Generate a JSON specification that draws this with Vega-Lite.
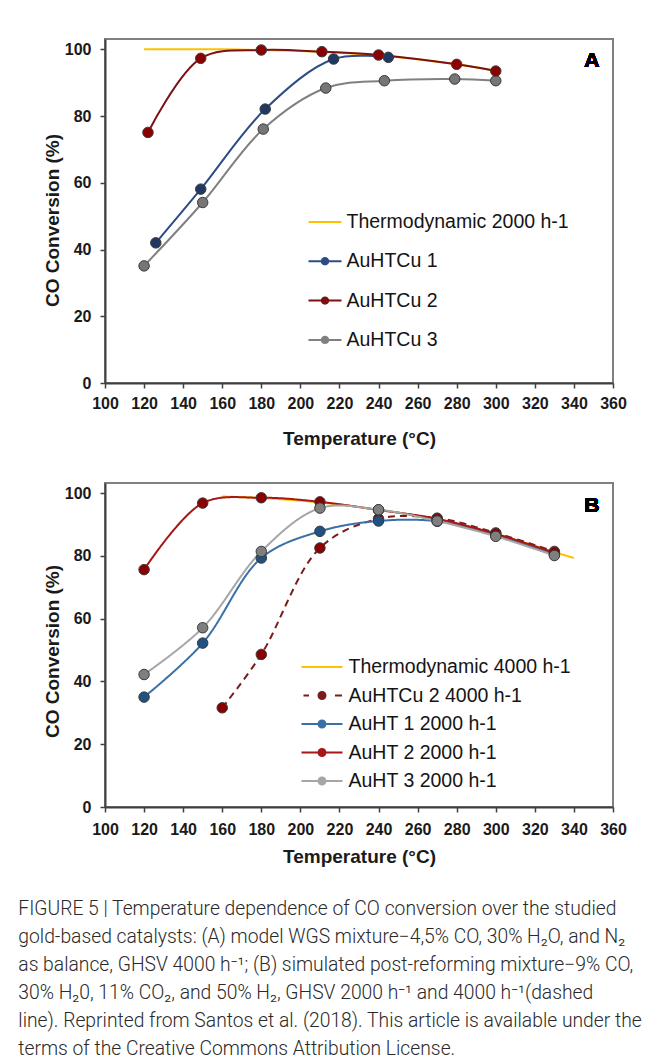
{
  "$schema": "https://vega.github.io/schema/vega-lite/v6.json",
  "background": "white",
  "padding": {"left": 18, "top": 38, "right": 10, "bottom": 5},
  "spacing": 33,
  "config": {
    "font": "Liberation Sans",
    "view": {"stroke": "#808080", "strokeWidth": 2},
    "axis": {
      "grid": false,
      "domainColor": "#404040",
      "domainWidth": 2,
      "tickColor": "#404040",
      "tickWidth": 1.5,
      "tickSize": 5,
      "labelFont": "Liberation Sans",
      "labelFontWeight": "bold",
      "labelFontSize": 16,
      "labelColor": "#1a1a1a",
      "titleFont": "Liberation Sans",
      "titleFontWeight": "bold",
      "titleFontSize": 19,
      "titleColor": "#1a1a1a",
      "labelFlush": false,
      "labelOverlap": false,
      "labelSeparation": -20,
      "labelBound": false
    },
    "axisY": {"labelPadding": 9, "titlePadding": 2}
  },
  "title": {
    "text": [
      "FIGURE 5 | Temperature dependence of CO conversion over the studied",
      "gold-based catalysts: (A) model WGS mixture−4,5% CO, 30% H₂O, and N₂",
      "as balance, GHSV 4000 h⁻¹; (B) simulated post-reforming mixture−9% CO,",
      "30% H₂0, 11% CO₂, and 50% H₂, GHSV 2000 h⁻¹ and 4000 h⁻¹(dashed",
      "line). Reprinted from Santos et al. (2018). This article is available under the",
      "terms of the Creative Commons Attribution License."
    ],
    "orient": "bottom",
    "anchor": "start",
    "frame": "bounds",
    "baseline": "top",
    "offset": 33,
    "dx": -24,
    "font": "Roboto",
    "fontWeight": 300,
    "fontSize": 19.3,
    "lineHeight": 27.9,
    "color": "#2a2a2a"
  },
  "resolve": {
    "scale": {"color": "independent", "shape": "independent", "strokeDash": "independent", "fill": "independent"},
    "legend": {"color": "independent", "shape": "independent", "fill": "independent", "strokeDash": "independent"}
  },
  "vconcat": [
    {
      "width": 508,
      "height": 344,
      "data": {
        "values": [
          {"series": "Thermodynamic 2000 h-1", "t": 120, "conv": 100},
          {"series": "Thermodynamic 2000 h-1", "t": 160, "conv": 100},
          {"series": "Thermodynamic 2000 h-1", "t": 180, "conv": 99.8},
          {"series": "Thermodynamic 2000 h-1", "t": 210, "conv": 99.3},
          {"series": "Thermodynamic 2000 h-1", "t": 240, "conv": 98.2},
          {"series": "Thermodynamic 2000 h-1", "t": 280, "conv": 95.5},
          {"series": "Thermodynamic 2000 h-1", "t": 300, "conv": 93.5},
          {"series": "AuHTCu 3", "t": 120, "conv": 35.1},
          {"series": "AuHTCu 3", "t": 150, "conv": 54.1},
          {"series": "AuHTCu 3", "t": 181, "conv": 76.1},
          {"series": "AuHTCu 3", "t": 213, "conv": 88.4},
          {"series": "AuHTCu 3", "t": 243, "conv": 90.6},
          {"series": "AuHTCu 3", "t": 279, "conv": 91.1},
          {"series": "AuHTCu 3", "t": 300, "conv": 90.6},
          {"series": "AuHTCu 1", "t": 126, "conv": 42.0},
          {"series": "AuHTCu 1", "t": 149, "conv": 58.1},
          {"series": "AuHTCu 1", "t": 182, "conv": 82.1},
          {"series": "AuHTCu 1", "t": 217, "conv": 97.1},
          {"series": "AuHTCu 1", "t": 245, "conv": 97.6},
          {"series": "AuHTCu 2", "t": 122, "conv": 75.1},
          {"series": "AuHTCu 2", "t": 149, "conv": 97.3},
          {"series": "AuHTCu 2", "t": 180, "conv": 99.8},
          {"series": "AuHTCu 2", "t": 211, "conv": 99.3},
          {"series": "AuHTCu 2", "t": 240, "conv": 98.3},
          {"series": "AuHTCu 2", "t": 280, "conv": 95.5},
          {"series": "AuHTCu 2", "t": 300, "conv": 93.5}
        ]
      },
      "encoding": {
        "x": {"field": "t", "type": "quantitative", "scale": {"domain": [100, 360], "nice": false, "zero": false}, "axis": {"values": [100, 120, 140, 160, 180, 200, 220, 240, 260, 280, 300, 320, 340, 360], "title": "Temperature (°C)", "titlePadding": 18, "labelPadding": 7, "labelOverlap": false, "labelFlush": false, "labelSeparation": -20, "labelBound": false}},
        "y": {"field": "conv", "type": "quantitative", "scale": {"domain": [0, 103.1], "nice": false}, "axis": {"values": [0, 20, 40, 60, 80, 100], "title": "CO Conversion (%)", "labelOverlap": false, "titleY": 181}}
      },
      "layer": [
        {
          "mark": {"type": "line", "interpolate": "catmull-rom", "strokeWidth": 2},
          "encoding": {
            "color": {"field": "series", "type": "nominal", "scale": {"domain": ["Thermodynamic 2000 h-1", "AuHTCu 1", "AuHTCu 2", "AuHTCu 3"], "range": ["#FFC000", "#2E4C84", "#7B1113", "#808080"]},
              "legend": {"orient": "none", "legendX": 210, "legendY": 173, "title": null, "symbolSize": 400, "labelFontSize": 19.5, "labelFont": "Liberation Sans", "labelColor": "#141414", "labelOffset": 11.5, "rowPadding": 19.3, "symbolStrokeWidth": 0, "symbolOpacity": 1, "labelLimit": 400, "padding": 0}}
          }
        },
        {
          "transform": [{"filter": "datum.series !== 'Thermodynamic 2000 h-1'"}],
          "mark": {"type": "point", "filled": true, "size": 110, "stroke": "#3a3a3a", "strokeWidth": 1, "opacity": 1},
          "encoding": {
            "fill": {"field": "series", "type": "nominal", "scale": {"domain": ["AuHTCu 1", "AuHTCu 2", "AuHTCu 3"], "range": ["#1F3864", "#8B0000", "#767676"]}, "legend": null}
          }
        },
        {
          "mark": {"type": "point", "filled": true, "size": 0},
          "encoding": {
            "color": {"field": "series", "type": "nominal", "scale": {"domain": ["Thermodynamic 2000 h-1", "AuHTCu 1", "AuHTCu 2", "AuHTCu 3"], "range": ["#FFC000", "#2E4C84", "#7B1113", "#808080"]},
              "legend": {"orient": "none", "legendX": 210, "legendY": 173, "title": null, "symbolSize": 400, "labelFontSize": 19.5, "labelFont": "Liberation Sans", "labelColor": "#141414", "labelOffset": 11.5, "rowPadding": 19.3, "symbolStrokeWidth": 0, "symbolOpacity": 1, "labelLimit": 400, "padding": 0}},
            "shape": {"field": "series", "type": "nominal", "scale": {"domain": ["Thermodynamic 2000 h-1", "AuHTCu 1", "AuHTCu 2", "AuHTCu 3"], "range": [
                "M-1.65,-0.11H1.65V0.11H-1.65Z",
                "M-1.65,-0.1H1.65V0.1H-1.65Z M0.42,0A0.42,0.42,0,1,1,-0.42,0A0.42,0.42,0,1,1,0.42,0Z",
                "M-1.65,-0.1H1.65V0.1H-1.65Z M0.42,0A0.42,0.42,0,1,1,-0.42,0A0.42,0.42,0,1,1,0.42,0Z",
                "M-1.65,-0.1H1.65V0.1H-1.65Z M0.42,0A0.42,0.42,0,1,1,-0.42,0A0.42,0.42,0,1,1,0.42,0Z"
              ]},
              "legend": {"orient": "none", "legendX": 210, "legendY": 173, "title": null, "symbolSize": 400, "labelFontSize": 19.5, "labelFont": "Liberation Sans", "labelColor": "#141414", "labelOffset": 11.5, "rowPadding": 19.3, "symbolStrokeWidth": 0, "symbolOpacity": 1, "labelLimit": 400, "padding": 0}}
          }
        },
        {
          "mark": {"type": "text", "text": "A", "align": "right", "baseline": "middle", "fontSize": 21, "fontWeight": "bold", "font": "Liberation Sans", "fill": "#000000"},
          "encoding": {
            "x": {"datum": 353, "type": "quantitative"},
            "y": {"datum": 96.5, "type": "quantitative"}
          }
        }
      ]
    },
    {
      "width": 508,
      "height": 324,
      "data": {
        "values": [
          {"series": "Thermodynamic 4000 h-1", "t": 160, "conv": 98.9},
          {"series": "Thermodynamic 4000 h-1", "t": 180, "conv": 98.4},
          {"series": "Thermodynamic 4000 h-1", "t": 210, "conv": 97.0},
          {"series": "Thermodynamic 4000 h-1", "t": 240, "conv": 94.7},
          {"series": "Thermodynamic 4000 h-1", "t": 270, "conv": 91.6},
          {"series": "Thermodynamic 4000 h-1", "t": 300, "conv": 87.0},
          {"series": "Thermodynamic 4000 h-1", "t": 330, "conv": 81.2},
          {"series": "Thermodynamic 4000 h-1", "t": 340, "conv": 79.3},
          {"series": "AuHTCu 2 4000 h-1", "t": 160, "conv": 31.6},
          {"series": "AuHTCu 2 4000 h-1", "t": 180, "conv": 48.6},
          {"series": "AuHTCu 2 4000 h-1", "t": 210, "conv": 82.5},
          {"series": "AuHTCu 2 4000 h-1", "t": 240, "conv": 91.8},
          {"series": "AuHTCu 2 4000 h-1", "t": 270, "conv": 92.0},
          {"series": "AuHTCu 2 4000 h-1", "t": 300, "conv": 87.3},
          {"series": "AuHTCu 2 4000 h-1", "t": 330, "conv": 81.4},
          {"series": "AuHT 1 2000 h-1", "t": 120, "conv": 35.0},
          {"series": "AuHT 1 2000 h-1", "t": 150, "conv": 52.2},
          {"series": "AuHT 1 2000 h-1", "t": 180, "conv": 79.3},
          {"series": "AuHT 1 2000 h-1", "t": 210, "conv": 87.8},
          {"series": "AuHT 1 2000 h-1", "t": 240, "conv": 91.1},
          {"series": "AuHT 1 2000 h-1", "t": 270, "conv": 91.0},
          {"series": "AuHT 1 2000 h-1", "t": 300, "conv": 86.5},
          {"series": "AuHT 1 2000 h-1", "t": 330, "conv": 80.5},
          {"series": "AuHT 2 2000 h-1", "t": 120, "conv": 75.6},
          {"series": "AuHT 2 2000 h-1", "t": 150, "conv": 96.8},
          {"series": "AuHT 2 2000 h-1", "t": 180, "conv": 98.5},
          {"series": "AuHT 2 2000 h-1", "t": 210, "conv": 97.2},
          {"series": "AuHT 2 2000 h-1", "t": 240, "conv": 94.6},
          {"series": "AuHT 2 2000 h-1", "t": 270, "conv": 91.8},
          {"series": "AuHT 2 2000 h-1", "t": 300, "conv": 87.0},
          {"series": "AuHT 2 2000 h-1", "t": 330, "conv": 81.0},
          {"series": "AuHT 3 2000 h-1", "t": 120, "conv": 42.2},
          {"series": "AuHT 3 2000 h-1", "t": 150, "conv": 57.1},
          {"series": "AuHT 3 2000 h-1", "t": 180, "conv": 81.4},
          {"series": "AuHT 3 2000 h-1", "t": 210, "conv": 95.2},
          {"series": "AuHT 3 2000 h-1", "t": 240, "conv": 94.7},
          {"series": "AuHT 3 2000 h-1", "t": 270, "conv": 91.1},
          {"series": "AuHT 3 2000 h-1", "t": 300, "conv": 86.2},
          {"series": "AuHT 3 2000 h-1", "t": 330, "conv": 80.1}
        ]
      },
      "encoding": {
        "x": {"field": "t", "type": "quantitative", "scale": {"domain": [100, 360], "nice": false, "zero": false}, "axis": {"values": [100, 120, 140, 160, 180, 200, 220, 240, 260, 280, 300, 320, 340, 360], "title": "Temperature (°C)", "titlePadding": 10, "labelPadding": 9, "labelOverlap": false, "labelFlush": false, "labelSeparation": -20, "labelBound": false}},
        "y": {"field": "conv", "type": "quantitative", "scale": {"domain": [0, 103.2], "nice": false}, "axis": {"values": [0, 20, 40, 60, 80, 100], "title": "CO Conversion (%)", "labelOverlap": false, "titleY": 168}}
      },
      "layer": [
        {
          "mark": {"type": "line", "interpolate": "catmull-rom", "strokeWidth": 2},
          "encoding": {
            "color": {"field": "series", "type": "nominal", "scale": {"domain": ["Thermodynamic 4000 h-1", "AuHTCu 2 4000 h-1", "AuHT 1 2000 h-1", "AuHT 2 2000 h-1", "AuHT 3 2000 h-1"], "range": ["#FFC000", "#7B1C1C", "#3A70A6", "#A81717", "#A6A6A6"]},
              "legend": {"orient": "none", "legendX": 207, "legendY": 174, "title": null, "symbolSize": 400, "labelFontSize": 19.5, "labelFont": "Liberation Sans", "labelColor": "#141414", "labelOffset": 16.5, "rowPadding": 8.5, "symbolStrokeWidth": 0, "symbolOpacity": 1, "labelLimit": 400, "padding": 0}},
            "strokeDash": {"field": "series", "type": "nominal", "scale": {"domain": ["AuHT 3 2000 h-1", "AuHT 2 2000 h-1", "AuHT 1 2000 h-1", "AuHTCu 2 4000 h-1", "Thermodynamic 4000 h-1"], "range": [[1, 0], [1, 0], [1, 0], [7, 5], [1, 0]]}, "legend": null}
          }
        },
        {
          "transform": [{"filter": "datum.series !== 'Thermodynamic 4000 h-1'"}],
          "mark": {"type": "point", "filled": true, "size": 110, "stroke": "#3a3a3a", "strokeWidth": 1, "opacity": 1},
          "encoding": {
            "fill": {"field": "series", "type": "nominal", "scale": {"domain": ["AuHTCu 2 4000 h-1", "AuHT 1 2000 h-1", "AuHT 2 2000 h-1", "AuHT 3 2000 h-1"], "range": ["#8B0000", "#1F5283", "#8B0000", "#7F7F7F"]}, "legend": null}
          }
        },
        {
          "mark": {"type": "point", "filled": true, "size": 0},
          "encoding": {
            "color": {"field": "series", "type": "nominal", "scale": {"domain": ["Thermodynamic 4000 h-1", "AuHTCu 2 4000 h-1", "AuHT 1 2000 h-1", "AuHT 2 2000 h-1", "AuHT 3 2000 h-1"], "range": ["#FFC000", "#7B1C1C", "#3A70A6", "#A81717", "#A6A6A6"]},
              "legend": {"orient": "none", "legendX": 207, "legendY": 174, "title": null, "symbolSize": 400, "labelFontSize": 19.5, "labelFont": "Liberation Sans", "labelColor": "#141414", "labelOffset": 16.5, "rowPadding": 8.5, "symbolStrokeWidth": 0, "symbolOpacity": 1, "labelLimit": 400, "padding": 0}},
            "shape": {"field": "series", "type": "nominal", "scale": {"domain": ["Thermodynamic 4000 h-1", "AuHTCu 2 4000 h-1", "AuHT 1 2000 h-1", "AuHT 2 2000 h-1", "AuHT 3 2000 h-1"], "range": [
                "M-2.05,-0.11H2.05V0.11H-2.05Z",
                "M-1.85,-0.1H-1.3V0.1H-1.85Z M1.3,-0.1H2.0V0.1H1.3Z M0.45,0A0.45,0.45,0,1,1,-0.45,0A0.45,0.45,0,1,1,0.45,0Z",
                "M-2.05,-0.1H2.05V0.1H-2.05Z M0.45,0A0.45,0.45,0,1,1,-0.45,0A0.45,0.45,0,1,1,0.45,0Z",
                "M-2.05,-0.1H2.05V0.1H-2.05Z M0.45,0A0.45,0.45,0,1,1,-0.45,0A0.45,0.45,0,1,1,0.45,0Z",
                "M-2.05,-0.1H2.05V0.1H-2.05Z M0.45,0A0.45,0.45,0,1,1,-0.45,0A0.45,0.45,0,1,1,0.45,0Z"
              ]},
              "legend": {"orient": "none", "legendX": 207, "legendY": 174, "title": null, "symbolSize": 400, "labelFontSize": 19.5, "labelFont": "Liberation Sans", "labelColor": "#141414", "labelOffset": 16.5, "rowPadding": 8.5, "symbolStrokeWidth": 0, "symbolOpacity": 1, "labelLimit": 400, "padding": 0}}
          }
        },
        {
          "mark": {"type": "text", "text": "B", "align": "right", "baseline": "middle", "fontSize": 21, "fontWeight": "bold", "font": "Liberation Sans", "fill": "#000000"},
          "encoding": {
            "x": {"datum": 353, "type": "quantitative"},
            "y": {"datum": 95.8, "type": "quantitative"}
          }
        }
      ]
    }
  ]
}
